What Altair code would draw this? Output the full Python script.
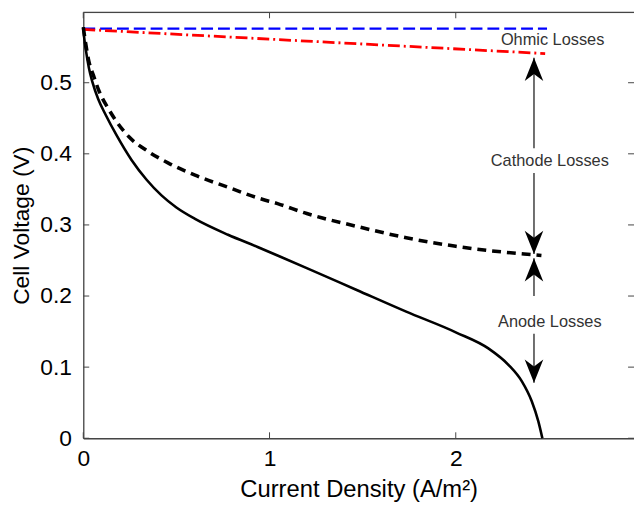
import altair as alt
import pandas as pd

# ---------------- data ----------------
cell_x = [0.0, 0.005, 0.015, 0.03, 0.05, 0.08, 0.12, 0.18, 0.26, 0.34, 0.42, 0.5,
          0.6, 0.777, 0.936, 1.043, 1.2, 1.468, 1.734, 2.0, 2.177, 2.284, 2.355,
          2.408, 2.443, 2.465]
cell_v = [0.578, 0.563, 0.544, 0.521, 0.500, 0.477, 0.455, 0.4255, 0.391, 0.3635, 0.3415, 0.3245,
          0.3085, 0.2862, 0.269, 0.257, 0.2393, 0.2085, 0.178, 0.149, 0.126, 0.103, 0.080,
          0.052, 0.024, 0.0]

cath_x = [0.0, 0.01, 0.03, 0.055, 0.085, 0.138, 0.174, 0.245, 0.35, 0.457, 0.6, 0.777,
          0.936, 1.043, 1.2, 1.468, 1.734, 2.0, 2.177, 2.417, 2.46]
cath_v = [0.578, 0.56, 0.53, 0.51, 0.488, 0.462, 0.447, 0.424, 0.403, 0.387, 0.370, 0.353,
          0.338, 0.330, 0.316, 0.298, 0.282, 0.270, 0.264, 0.258, 0.257]

ohm_x = [0.0, 2.48]
ohm_v = [0.575, 0.541]

ocv_x = [0.0, 2.49]
ocv_v = [0.576, 0.576]

x_ticks = [0, 1, 2]
y_ticks = [0, 0.1, 0.2, 0.3, 0.4, 0.5]

labels = ["Ohmic Losses", "Cathode Losses", "Anode Losses"]
label_x = [2.52, 2.505, 2.505]
label_v = [0.56, 0.39, 0.164]

arrow_x = [2.42, 2.42, 2.42, 2.42]
seg_v1 = [0.535, 0.373, 0.253, 0.147]
seg_v2 = [0.408, 0.259, 0.200, 0.078]
head_up_v = [0.535, 0.253]
head_down_v = [0.259, 0.078]

# ---------------- layout ----------------
W, H = 556, 430
X_DOM = [0, 2.957]
Y_DOM = [0, 0.599]
FONT = "Liberation Sans"
AX = "#454545"

xs = alt.Scale(domain=X_DOM, nice=False, zero=False)
ys = alt.Scale(domain=Y_DOM, nice=False, zero=False)

x_axis = alt.Axis(values=x_ticks, format="d", title="Current Density (A/m²)",
                  ticks=False, grid=False, domainColor=AX, domainWidth=1.3,
                  labelFlush=False,
                  labelFontSize=23, titleFontSize=24, labelPadding=10, titlePadding=7,
                  labelColor="black", titleColor="black", labelFont=FONT, titleFont=FONT,
                  titleFontWeight="normal")
y_axis = alt.Axis(values=y_ticks, format=".1~f", title="Cell Voltage (V)",
                  ticks=False, grid=False, domainColor=AX, domainWidth=1.3,
                  labelFlush=False,
                  labelFontSize=23, titleFontSize=23, labelPadding=12, titlePadding=6,
                  labelColor="black", titleColor="black", labelFont=FONT, titleFont=FONT,
                  titleFontWeight="normal")

cell_df = pd.DataFrame({"x": cell_x, "v": cell_v})
cath_df = pd.DataFrame({"x": cath_x, "v": cath_v})
ohm_df = pd.DataFrame({"x": ohm_x, "v": ohm_v})
ocv_df = pd.DataFrame({"x": ocv_x, "v": ocv_v})

cell = alt.Chart(cell_df).mark_line(color="black", strokeWidth=2.6, interpolate="monotone").encode(
    x=alt.X("x:Q", scale=xs, axis=x_axis),
    y=alt.Y("v:Q", scale=ys, axis=y_axis),
)
cath = alt.Chart(cath_df).mark_line(color="black", strokeWidth=3.6, strokeDash=[9, 6],
                                    interpolate="monotone").encode(
    x=alt.X("x:Q", scale=xs), y=alt.Y("v:Q", scale=ys))
ohm = alt.Chart(ohm_df).mark_line(color="#ff0000", strokeWidth=2.8, strokeDash=[12, 4, 2, 4]).encode(
    x=alt.X("x:Q", scale=xs), y=alt.Y("v:Q", scale=ys))
ocv = alt.Chart(ocv_df).mark_line(color="#0000ff", strokeWidth=2.4, strokeDash=[12, 5]).encode(
    x=alt.X("x:Q", scale=xs), y=alt.Y("v:Q", scale=ys))

seg_df = pd.DataFrame({"x": arrow_x, "v1": seg_v1, "v2": seg_v2})
segs = alt.Chart(seg_df).mark_rule(color="#222222", strokeWidth=1.3).encode(
    x=alt.X("x:Q", scale=xs), y=alt.Y("v1:Q", scale=ys), y2="v2:Q")

UP = "M0,0 L0.4,1 L0,0.7 L-0.4,1 Z"
DOWN = "M0,0 L0.4,-1 L0,-0.7 L-0.4,-1 Z"
up_df = pd.DataFrame({"x": arrow_x[:2], "v": head_up_v})
down_df = pd.DataFrame({"x": arrow_x[:2], "v": head_down_v})
heads_up = alt.Chart(up_df).mark_point(shape=UP, filled=True, color="black", size=2200, opacity=1).encode(
    x=alt.X("x:Q", scale=xs), y=alt.Y("v:Q", scale=ys))
heads_down = alt.Chart(down_df).mark_point(shape=DOWN, filled=True, color="black", size=2200, opacity=1).encode(
    x=alt.X("x:Q", scale=xs), y=alt.Y("v:Q", scale=ys))

lab_df = pd.DataFrame({"x": label_x, "v": label_v, "t": labels})
texts = alt.Chart(lab_df).mark_text(font=FONT, fontSize=16.5, color="#333333", align="center",
                                    baseline="middle").encode(
    x=alt.X("x:Q", scale=xs), y=alt.Y("v:Q", scale=ys), text="t:N")

# inward ticks on all sides + top border
xt_df = pd.DataFrame({"x": x_ticks})
yt_df = pd.DataFrame({"v": y_ticks})
tick_b = alt.Chart(xt_df).mark_rule(color=AX, strokeWidth=1).encode(
    x=alt.X("x:Q", scale=xs), y=alt.value(H), y2=alt.value(H - 6))
tick_t = alt.Chart(xt_df).mark_rule(color=AX, strokeWidth=1).encode(
    x=alt.X("x:Q", scale=xs), y=alt.value(0), y2=alt.value(6))
tick_l = alt.Chart(yt_df).mark_rule(color=AX, strokeWidth=1).encode(
    y=alt.Y("v:Q", scale=ys), x=alt.value(0), x2=alt.value(6))
tick_r = alt.Chart(yt_df).mark_rule(color=AX, strokeWidth=1).encode(
    y=alt.Y("v:Q", scale=ys), x=alt.value(W), x2=alt.value(W - 6))
top_border = alt.Chart(pd.DataFrame({"a": [0]})).mark_rule(color=AX, strokeWidth=1.3).encode(
    x=alt.value(0), x2=alt.value(W), y=alt.value(0))

chart = alt.layer(
    cell, ocv, ohm, cath, segs, heads_up, heads_down, texts,
    tick_b, tick_t, tick_l, tick_r, top_border,
).properties(
    width=W, height=H,
    padding={"left": 76, "top": 2, "right": 0, "bottom": 62},
    autosize=alt.AutoSizeParams(type="none"),
).configure_view(stroke=None).configure(background="white")

chart.save("out.html", embed_options={"renderer": "svg", "actions": False})
